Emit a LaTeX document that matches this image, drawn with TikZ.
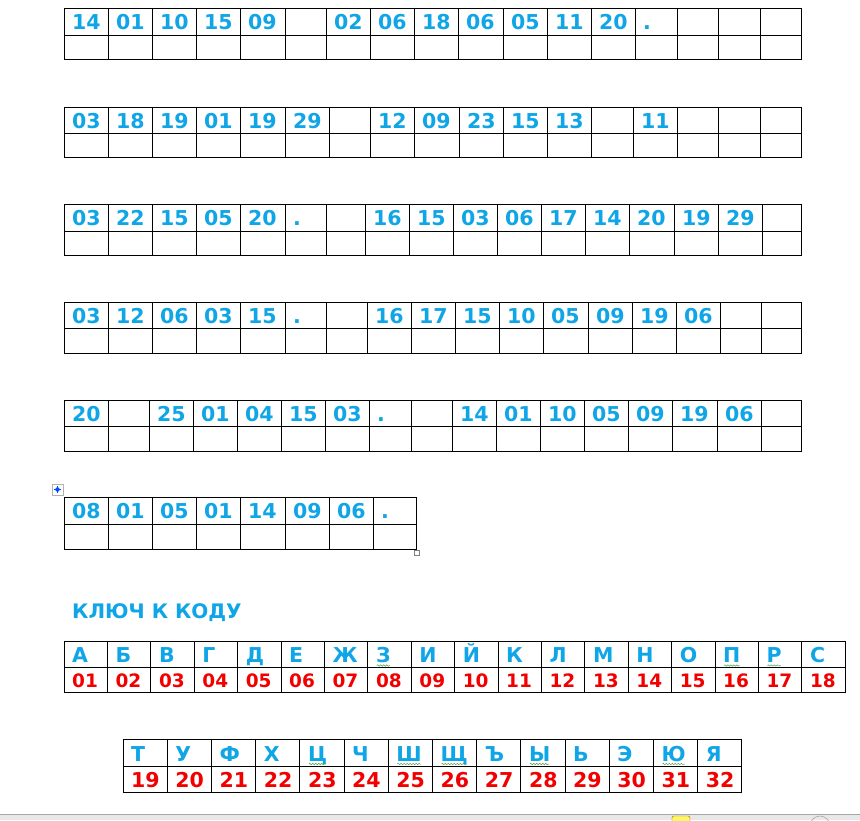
\documentclass[tikz,border=0pt]{standalone}
\usepackage{fontspec}
\setmainfont{DejaVu Sans}
\usepackage{tikz}
\usetikzlibrary{arrows,decorations.pathmorphing}

\definecolor{codeblue}{HTML}{0FA5E6}
\definecolor{keyred}{HTML}{F20000}
\definecolor{wavegreen}{HTML}{4C9F4C}

% one coded line: name, top, middle, bottom, cells
\newcommand{\codetable}[5]{%
  \foreach \l/\r/\t [count=\i] in {#5} {
    \draw[cell] (\l,#2) rectangle (\r,#3);
    \draw[cell] (\l,#3) rectangle (\r,#4);
    \node[code] (#1-\i) at (\l+8,#2+21) {\t};
  }}

\begin{document}
\begin{tikzpicture}[x=1pt,y=-1pt,
  cell/.style={draw=black,line width=0.9pt},
  code/.style={anchor=base west,inner sep=0pt,text=codeblue,font=\fontsize{20.5}{24}\selectfont\bfseries},
  keyletter/.style={code},
  keynum/.style={anchor=base west,inner sep=0pt,text=keyred,font=\fontsize{18.5}{22}\selectfont\bfseries},
  spellwave/.style={draw=wavegreen,line width=0.5pt,decorate,decoration={snake,amplitude=0.7pt,segment length=3pt}}]
\useasboundingbox (0,0) rectangle (860,820);

\codetable{a}{8}{35}{59}{64/108/14, 108/152/01, 152/196/10, 196/240/15, 240/285/09, 285/326/{},
  326/370/02, 370/414/06, 414/458/18, 458/503/06, 503/547/05, 547/591/11, 591/635/20,
  635/677/., 677/718/{}, 718/760/{}, 760/801/{}}
\codetable{b}{107}{133}{157}{64/108/03, 108/152/18, 152/196/19, 196/240/01, 240/285/19, 285/329/29,
  329/370/{}, 370/414/12, 414/459/09, 459/503/23, 503/547/15, 547/591/13, 591/633/{},
  633/677/11, 677/718/{}, 718/760/{}, 760/801/{}}
\codetable{c}{204}{231}{255}{64/108/03, 108/152/22, 152/196/15, 196/240/05, 240/285/20, 285/326/.,
  326/365/{}, 365/409/16, 409/453/15, 453/497/03, 497/541/06, 541/585/17, 585/629/14,
  629/674/20, 674/718/19, 718/762/29, 762/801/{}}
\codetable{d}{302}{328}{353}{64/108/03, 108/152/12, 152/196/06, 196/240/03, 240/285/15, 285/326/.,
  326/367/{}, 367/411/16, 411/455/17, 455/499/15, 499/543/10, 543/588/05, 588/632/09,
  632/676/19, 676/720/06, 720/761/{}, 761/801/{}}
\codetable{e}{400}{426}{451}{64/108/20, 108/149/{}, 149/193/25, 193/237/01, 237/281/04, 281/325/15,
  325/369/03, 369/411/., 411/452/{}, 452/496/14, 496/540/01, 540/584/10, 584/628/05,
  628/672/09, 672/717/19, 717/761/06, 761/801/{}}
\codetable{f}{497}{524}{549}{64/108/08, 108/152/01, 152/196/05, 196/240/01, 240/285/14, 285/329/09,
  329/373/06, 373/416/.}

% table handles
\draw[gray!60,fill=white,line width=0.5pt] (52,484) rectangle (63,495);
\draw[<->,>=stealth',blue!70!cyan,line width=0.5pt] (54,489.5) -- (61,489.5);
\draw[<->,>=stealth',blue!70!cyan,line width=0.5pt] (57.5,486) -- (57.5,493);
\draw[gray,fill=white,line width=0.5pt] (414,550) rectangle (419,555);

\node[code,anchor=base west,font=\fontsize{20}{24}\selectfont\bfseries] (title) at (72,618) {КЛЮЧ К КОДУ};

% key, first line
\foreach \c/\n [count=\i from 0] in {А/01, Б/02, В/03, Г/04, Д/05, Е/06, Ж/07, З/08, И/09,
  Й/10, К/11, Л/12, М/13, Н/14, О/15, П/16, Р/17, С/18} {
  \draw[cell] (64+43.4*\i,641) rectangle (64+43.4*\i+43.4,667);
  \draw[cell] (64+43.4*\i,667) rectangle (64+43.4*\i+43.4,692);
  \node[keyletter] (k\n) at (64+43.4*\i+8,662.5) {\c};
  \node[keynum] (n\n) at (64+43.4*\i+8,687) {\n};
}
% key, second line
\foreach \c/\n [count=\i from 0] in {Т/19, У/20, Ф/21, Х/22, Ц/23, Ч/24, Ш/25, Щ/26, Ъ/27,
  Ы/28, Ь/29, Э/30, Ю/31, Я/32} {
  \draw[cell] (123+44.2*\i,739) rectangle (123+44.2*\i+44.2,766);
  \draw[cell] (123+44.2*\i,766) rectangle (123+44.2*\i+44.2,792);
  \node[keyletter] (k\n) at (123+44.2*\i+8,761) {\c};
  \node[keynum,font=\fontsize{20.5}{24}\selectfont\bfseries] (n\n) at (123+44.2*\i+8,787) {\n};
}

% spell check marks
\foreach \n in {08,16,17,23,25,26,28,31}
  \draw[spellwave] ([xshift=1pt,yshift=-3pt]k\n.base west) -- ([xshift=-1pt,yshift=-3pt]k\n.base east);

% status bar
\fill[gray!18] (0,814) rectangle (860,820);
\draw[gray!70,line width=0.8pt] (0,814) -- (860,814);
\draw[orange!70!black,fill=yellow!60,rounded corners=1.5pt] (672,816) rectangle (690,824);
\draw[gray!70,line width=0.6pt] (810,826) arc (180:360:10);
\end{tikzpicture}
\end{document}
